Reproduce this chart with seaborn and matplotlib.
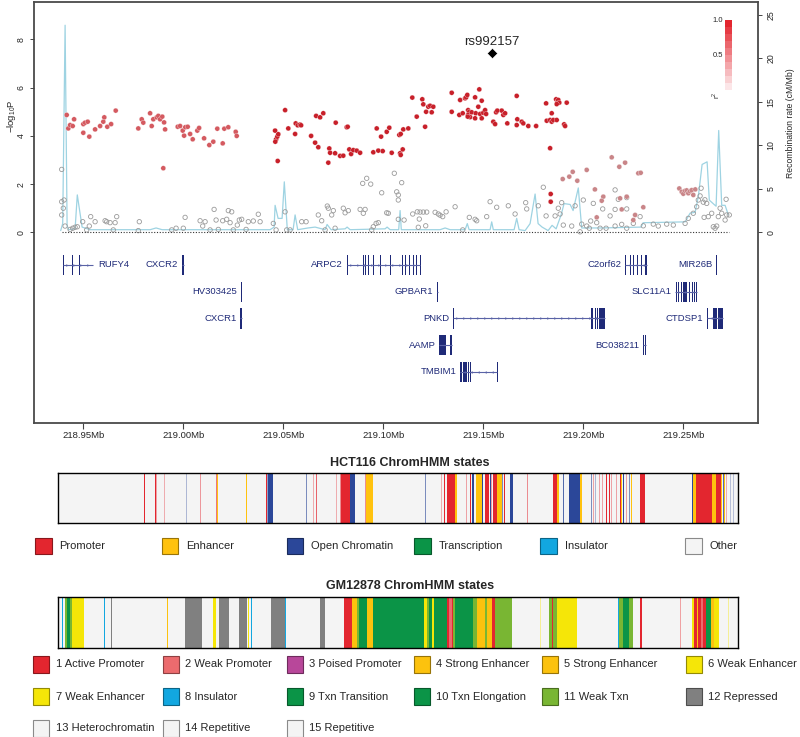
import numpy as np
import pandas as pd
import matplotlib.pyplot as plt
import seaborn as sns
from matplotlib.colors import LinearSegmentedColormap, Normalize, to_rgb
from matplotlib.cm import ScalarMappable
from matplotlib.patches import Rectangle

sns.set_style('white')
plt.rcParams['font.family'] = ['Liberation Sans', 'DejaVu Sans']
plt.rcParams['mathtext.fontset'] = 'custom'
plt.rcParams['mathtext.rm'] = 'Liberation Sans'
NARROW = ['Liberation Sans Narrow', 'Liberation Sans', 'DejaVu Sans']

# ---- association results (position in Mb, -log10 P) ----
snp_mid = [(218.9417, 4.87), (218.9425, 4.31), (218.9434, 4.45), (218.9447, 4.41), (218.9454, 4.69),
           (218.9500, 4.49), (218.9509, 4.55), (218.9522, 4.59), (218.9500, 4.13), (218.9530, 3.97),
           (218.9559, 4.27), (218.9584, 4.41), (218.9600, 4.59), (218.9605, 4.77), (218.9620, 4.38),
           (218.9639, 4.49), (218.9662, 5.05), (218.9775, 4.31), (218.9792, 4.69), (218.9800, 4.55),
           (218.9834, 4.94), (218.9842, 4.41), (218.9850, 4.69), (218.9867, 4.77), (218.9875, 4.83),
           (218.9884, 4.69), (218.9895, 4.80), (218.9904, 4.56), (218.9909, 4.27), (218.9900, 2.66),
           (218.9972, 4.38), (218.9984, 4.41), (218.9997, 4.22), (219.0004, 4.01), (219.0010, 4.36),
           (219.0022, 4.38), (219.0034, 4.08), (219.0047, 3.86), (219.0070, 4.22), (219.0079, 4.33),
           (219.0104, 3.90), (219.0130, 3.62), (219.0150, 3.76), (219.0170, 4.30), (219.0197, 3.69),
           (219.0205, 4.30), (219.0225, 4.36), (219.0262, 4.17), (219.0267, 4.00)]

snp_high = [(219.0459, 4.22), (219.0464, 3.86), (219.0470, 3.97), (219.0475, 4.07), (219.0460, 3.76),
            (219.0472, 2.96), (219.0509, 5.07), (219.0525, 4.31), (219.0559, 4.08), (219.0562, 4.52),
            (219.0572, 4.44), (219.0584, 4.47), (219.0589, 4.44), (219.0639, 4.00), (219.0659, 3.72),
            (219.0664, 4.83), (219.0675, 3.53), (219.0684, 4.77), (219.0700, 4.94), (219.0725, 2.89),
            (219.0730, 3.48), (219.0734, 3.30), (219.0759, 3.28), (219.0762, 4.55), (219.0784, 3.17),
            (219.0800, 3.18), (219.0817, 4.36), (219.0822, 4.38), (219.0830, 3.44), (219.0839, 3.25),
            (219.0850, 3.41), (219.0867, 3.39), (219.0884, 3.30), (219.0950, 3.32), (219.0967, 4.31),
            (219.0975, 3.39), (219.0989, 3.97), (219.0997, 3.37), (219.1017, 4.17), (219.1030, 4.34),
            (219.1042, 3.30), (219.1080, 4.04), (219.1087, 4.08), (219.1084, 3.28), (219.1087, 3.21),
            (219.1097, 3.44), (219.1100, 4.27), (219.1125, 4.31), (219.1145, 5.59), (219.1167, 4.80),
            (219.1195, 5.52), (219.1200, 5.31), (219.1209, 4.38), (219.1214, 5.00), (219.1225, 5.21),
            (219.1234, 5.25), (219.1242, 4.98), (219.1250, 5.21), (219.1342, 5.79), (219.1342, 5.00),
            (219.1380, 4.87), (219.1384, 5.49), (219.1397, 4.94), (219.1409, 5.56), (219.1414, 5.60),
            (219.1420, 5.70), (219.1424, 5.07), (219.1429, 4.99), (219.1424, 4.87), (219.1434, 4.78),
            (219.1442, 4.98), (219.1422, 4.80), (219.1459, 5.60), (219.1462, 4.94), (219.1459, 4.73),
            (219.1475, 5.21), (219.1480, 5.93), (219.1492, 5.46), (219.1484, 4.91), (219.1492, 4.73),
            (219.1500, 4.96), (219.1509, 5.07), (219.1514, 4.91), (219.1550, 4.59), (219.1559, 4.49),
            (219.1564, 4.98), (219.1570, 5.05), (219.1592, 5.05), (219.1600, 4.87), (219.1609, 4.94),
            (219.1620, 4.52), (219.1667, 5.66), (219.1667, 4.45), (219.1670, 4.69), (219.1692, 4.59),
            (219.1700, 4.52), (219.1725, 4.41), (219.1764, 4.41), (219.1814, 5.35), (219.1817, 4.63),
            (219.1834, 4.66), (219.1842, 4.59), (219.1850, 4.66), (219.1867, 4.66), (219.1842, 4.94),
            (219.1864, 5.52), (219.1872, 5.42), (219.1875, 5.49), (219.1880, 5.38), (219.1867, 5.32),
            (219.1917, 5.38), (219.1904, 4.48), (219.1909, 4.41), (219.1834, 3.49), (219.1837, 1.59),
            (219.1837, 1.27)]

snp_low = [(219.1897, 2.21), (219.1930, 2.31), (219.1947, 2.51), (219.1970, 2.14), (219.2017, 2.59),
           (219.2142, 3.11), (219.2180, 2.72), (219.2209, 2.89), (219.2275, 2.45), (219.2287, 2.47),
           (219.2058, 1.78), (219.2100, 1.48), (219.2092, 1.31), (219.2184, 1.41), (219.2217, 1.48),
           (219.2250, 0.51), (219.2259, 0.72), (219.2300, 1.04), (219.2192, 0.95), (219.2067, 0.62),
           (219.2480, 1.82), (219.2492, 1.68), (219.2500, 1.60), (219.2509, 1.72), (219.2517, 1.74),
           (219.2525, 1.62), (219.2534, 1.70), (219.2542, 1.75), (219.2550, 1.55), (219.2560, 1.78)]

snp_none = [(218.9392, 2.61), (218.9392, 1.27), (218.9404, 1.34), (218.9400, 1.00), (218.9392, 0.72),
            (218.9409, 0.26), (218.9434, 0.12), (218.9447, 0.17), (218.9459, 0.21), (218.9470, 0.23),
            (218.9497, 0.44), (218.9517, 0.10), (218.9530, 0.26), (218.9537, 0.65), (218.9559, 0.44),
            (218.9609, 0.48), (218.9617, 0.44), (218.9634, 0.40), (218.9650, 0.10), (218.9659, 0.40),
            (218.9667, 0.65), (218.9780, 0.44), (218.9775, 0.07), (218.9942, 0.10), (218.9964, 0.17),
            (219.0000, 0.17), (219.0009, 0.62), (219.0084, 0.48), (219.0097, 0.26), (219.0109, 0.44),
            (219.0134, 0.10), (219.0154, 0.95), (219.0164, 0.51), (219.0175, 0.12), (219.0197, 0.48),
            (219.0217, 0.54), (219.0225, 0.90), (219.0234, 0.40), (219.0242, 0.85), (219.0250, 0.10),
            (219.0270, 0.30), (219.0280, 0.51), (219.0292, 0.54), (219.0314, 0.12), (219.0325, 0.44),
            (219.0350, 0.47), (219.0375, 0.75), (219.0384, 0.44), (219.0450, 0.37), (219.0464, 0.10),
            (219.0509, 0.85), (219.0517, 0.10), (219.0534, 0.10), (219.0592, 0.44), (219.0614, 0.44),
            (219.0675, 0.72), (219.0692, 0.48), (219.0709, 0.10), (219.0720, 1.09), (219.0725, 1.00),
            (219.0742, 0.72), (219.0750, 0.90), (219.0759, 0.17), (219.0800, 1.00), (219.0809, 0.81),
            (219.0825, 0.90), (219.0884, 0.95), (219.0900, 0.79), (219.0909, 0.95), (219.0897, 2.03),
            (219.0917, 2.24), (219.0937, 2.00), (219.0942, 0.10), (219.0950, 0.23), (219.0964, 0.37),
            (219.0975, 0.40), (219.0992, 1.64), (219.1017, 0.81), (219.1055, 2.45), (219.1067, 1.68),
            (219.1075, 1.55), (219.1075, 0.54), (219.1092, 2.06), (219.1075, 1.34), (219.1025, 0.79),
            (219.1104, 0.51), (219.1147, 0.76), (219.1170, 0.85), (219.1184, 0.84), (219.1200, 0.84),
            (219.1217, 0.84), (219.1180, 0.55), (219.1259, 0.83), (219.1275, 0.76), (219.1284, 0.71),
            (219.1297, 0.65), (219.1314, 0.85), (219.1359, 1.06), (219.1212, 0.27), (219.1175, 0.21),
            (219.1397, 0.10), (219.1430, 0.62), (219.1459, 0.54), (219.1467, 0.48), (219.1517, 0.65),
            (219.1534, 1.27), (219.1567, 1.04), (219.1625, 1.10), (219.1659, 0.76), (219.1712, 1.23),
            (219.1717, 0.97), (219.1800, 1.87), (219.1775, 1.10), (219.1814, 0.68), (219.1859, 0.68),
            (219.1875, 1.00), (219.1892, 1.23), (219.1884, 0.76), (219.1959, 1.10), (219.1942, 0.26),
            (219.1900, 0.30), (219.2000, 1.34), (219.1992, 0.34), (219.2017, 0.26), (219.2037, 0.47),
            (219.2067, 0.40), (219.2084, 0.17), (219.1984, 0.02), (219.2030, 0.17), (219.2114, 0.17),
            (219.2159, 0.26), (219.2192, 0.33), (219.2217, 0.17), (219.2250, 0.37), (219.2159, 0.95),
            (219.2134, 0.68), (219.2217, 0.97), (219.2097, 0.97), (219.2050, 1.20), (219.2284, 0.65),
            (219.2159, 1.76), (219.2175, 1.37), (219.2217, 1.44), (219.2300, 0.27), (219.2350, 0.34),
            (219.2375, 0.26), (219.2417, 0.34), (219.2450, 0.30), (219.2509, 0.37), (219.2525, 0.58),
            (219.2550, 0.79), (219.2567, 1.06), (219.2575, 1.34), (219.2584, 1.51), (219.2589, 1.83),
            (219.2600, 1.25), (219.2608, 1.35), (219.2617, 1.20), (219.2604, 0.62), (219.2625, 0.65),
            (219.2642, 0.79), (219.2650, 0.23), (219.2659, 0.17), (219.2667, 0.26), (219.2675, 0.65),
            (219.2684, 1.00), (219.2692, 0.79), (219.2709, 0.51), (219.2714, 1.37), (219.2717, 0.72),
            (219.2730, 0.72)]

lead_snp = 'rs992157'
lead_pos = 219.1542
lead_logp = 7.44

# recombination rate (cM/Mb)
recomb = [(218.9387, 0.2), (218.9397, 1.0), (218.9409, 23.8), (218.9419, 0.8), (218.9426, 0.3),
          (218.9459, 0.4), (218.9470, 4.3), (218.9494, 0.6), (218.9534, 0.3), (218.9834, 0.3),
          (218.9864, 0.5), (218.9894, 0.3), (219.0434, 0.3), (219.0454, 0.6), (219.0459, 3.1),
          (219.0474, 1.6), (219.0494, 1.6), (219.0505, 5.8), (219.0520, 0.3), (219.0549, 0.3),
          (219.0559, 2.0), (219.0572, 0.3), (219.0624, 0.5), (219.0659, 0.6), (219.0709, 0.3),
          (219.0719, 0.9), (219.0739, 0.3), (219.0809, 0.4), (219.0819, 0.6), (219.0834, 0.3),
          (219.1009, 0.4), (219.1019, 0.6), (219.1034, 0.3), (219.1077, 0.3), (219.1084, 2.5),
          (219.1090, 0.3), (219.1284, 0.3), (219.1309, 0.5), (219.1334, 0.3), (219.1409, 0.3),
          (219.1420, 1.0), (219.1429, 0.3), (219.1534, 0.3), (219.1542, 1.2), (219.1550, 0.3),
          (219.1654, 0.3), (219.1667, 1.6), (219.1679, 0.3), (219.1709, 0.2), (219.1734, 1.0),
          (219.1759, 4.4), (219.1774, 1.0), (219.1794, 0.6), (219.1824, 0.2), (219.1844, 0.8),
          (219.1864, 0.4), (219.1889, 2.0), (219.1904, 3.3), (219.1934, 3.2), (219.1949, 2.5),
          (219.1975, 5.1), (219.1992, 0.5), (219.2084, 0.5), (219.2289, 0.6), (219.2299, 1.1),
          (219.2509, 1.2), (219.2534, 2.2), (219.2559, 2.3), (219.2575, 4.1), (219.2594, 7.8),
          (219.2619, 8.1), (219.2630, 3.7), (219.2654, 3.2), (219.2664, 3.0), (219.2677, 11.7),
          (219.2692, 3.1), (219.2709, 3.1), (219.2725, 2.0)]

# ---- genes ----
gene_names = ['RUFY4', 'CXCR2', 'ARPC2', 'C2orf62', 'MIR26B', 'HV303425', 'GPBAR1', 'SLC11A1',
              'CXCR1', 'PNKD', 'CTDSP1', 'AAMP', 'BC038211', 'TMBIM1']
gene_rows = [0, 0, 0, 0, 0, 1, 1, 1, 2, 2, 2, 3, 3, 4]
gene_start = [218.9397, 218.9992, 219.0817, 219.2209, 219.2662, 219.0289, 219.1267, 219.2459,
              219.0284, 219.1347, 219.2617, 219.1280, 219.2300, 219.1384]
gene_end = [218.9550, 219.0004, 219.1184, 219.2320, 219.2662, 219.0289, 219.1275, 219.2567,
            219.0295, 219.2109, 219.2697, 219.1342, 219.2312, 219.1567]
gene_strand = ['+', '+', '+', '-', '+', '+', '+', '+', '+', '+', '-', '-', '+', '-']
gene_exons = [
    [(218.9397, 218.9402), (218.9442, 218.9444), (218.9480, 218.9482), (218.9517, 218.9519), (218.9542, 218.9546)],
    [(218.9992, 219.0004)],
    [(219.0817, 219.0819), (219.0897, 219.0899), (219.0909, 219.0911), (219.0925, 219.0927), (219.0950, 219.0952),
     (219.0984, 219.0986), (219.1034, 219.1037), (219.1092, 219.1094), (219.1109, 219.1111), (219.1130, 219.1132),
     (219.1150, 219.1152), (219.1165, 219.1168), (219.1182, 219.1184)],
    [(219.2209, 219.2216), (219.2234, 219.2236), (219.2250, 219.2252), (219.2270, 219.2272), (219.2287, 219.2289),
     (219.2309, 219.2320)],
    [(219.2662, 219.2662)],
    [(219.0289, 219.0289)],
    [(219.1267, 219.1275)],
    [(219.2464, 219.2466), (219.2475, 219.2477), (219.2487, 219.2489), (219.2500, 219.2517), (219.2530, 219.2532),
     (219.2542, 219.2544), (219.2555, 219.2557), (219.2565, 219.2567)],
    [(219.0284, 219.0295)],
    [(219.1347, 219.1350), (219.2037, 219.2041), (219.2045, 219.2049), (219.2059, 219.2062), (219.2067, 219.2070),
     (219.2080, 219.2092), (219.2092, 219.2109)],
    [(219.2617, 219.2619), (219.2650, 219.2667), (219.2675, 219.2677), (219.2680, 219.2697)],
    [(219.1280, 219.1313), (219.1334, 219.1342)],
    [(219.2300, 219.2300), (219.2309, 219.2312)],
    [(219.1384, 219.1392), (219.1397, 219.1399), (219.1402, 219.1404), (219.1407, 219.1409), (219.1412, 219.1414),
     (219.1417, 219.1419), (219.1422, 219.1424), (219.1434, 219.1436), (219.1567, 219.1567)],
]

# ---- ChromHMM segments ----
hct_states = ['Promoter', 'Enhancer', 'Open Chromatin', 'Transcription', 'Insulator', 'Other']
hct_colors = ['#E3262F', '#FFC20E', '#2B4799', '#0B9447', '#12A7E0', '#F4F4F4']
# (start, end, state, strength)
hct_segments = [
    (218.9376, 218.9380, 'Open Chromatin', 1), (218.9805, 218.9810, 'Promoter', 1),
    (218.9860, 218.9865, 'Promoter', 1), (218.9865, 218.9870, 'Promoter', 0.4),
    (218.9902, 218.9907, 'Promoter', 0.35), (219.0012, 219.0017, 'Open Chromatin', 0.35),
    (219.0085, 219.0090, 'Promoter', 0.45), (219.0165, 219.0170, 'Promoter', 0.6),
    (219.0170, 219.0176, 'Enhancer', 1), (219.0315, 219.0320, 'Enhancer', 1),
    (219.0412, 219.0417, 'Promoter', 1), (219.0420, 219.0424, 'Open Chromatin', 0.5),
    (219.0425, 219.0447, 'Open Chromatin', 1), (219.0615, 219.0620, 'Open Chromatin', 0.6),
    (219.0648, 219.0653, 'Promoter', 0.35), (219.0665, 219.0670, 'Promoter', 0.7),
    (219.0765, 219.0770, 'Promoter', 0.35), (219.0782, 219.0787, 'Promoter', 0.5),
    (219.0790, 219.0834, 'Promoter', 1), (219.0834, 219.0859, 'Open Chromatin', 1),
    (219.0910, 219.0914, 'Promoter', 0.5), (219.0914, 219.0950, 'Enhancer', 1),
    (219.1207, 219.1212, 'Open Chromatin', 0.6), (219.1290, 219.1295, 'Promoter', 0.35),
    (219.1303, 219.1308, 'Promoter', 1), (219.1317, 219.1359, 'Promoter', 1),
    (219.1359, 219.1370, 'Enhancer', 1), (219.1415, 219.1420, 'Promoter', 0.4),
    (219.1432, 219.1437, 'Promoter', 1), (219.1442, 219.1454, 'Open Chromatin', 1),
    (219.1462, 219.1467, 'Enhancer', 1), (219.1470, 219.1492, 'Enhancer', 1),
    (219.1492, 219.1500, 'Open Chromatin', 1), (219.1509, 219.1530, 'Promoter', 1),
    (219.1534, 219.1538, 'Open Chromatin', 1), (219.1540, 219.1545, 'Promoter', 0.4),
    (219.1550, 219.1567, 'Promoter', 1), (219.1567, 219.1592, 'Enhancer', 1),
    (219.1592, 219.1600, 'Open Chromatin', 0.6), (219.1603, 219.1608, 'Promoter', 1),
    (219.1634, 219.1650, 'Open Chromatin', 1), (219.1720, 219.1725, 'Promoter', 0.5),
    (219.1847, 219.1867, 'Promoter', 1), (219.1867, 219.1877, 'Enhancer', 1),
    (219.1898, 219.1903, 'Open Chromatin', 0.8), (219.1930, 219.1984, 'Open Chromatin', 1),
    (219.1984, 219.1992, 'Enhancer', 1), (219.2040, 219.2045, 'Open Chromatin', 0.6),
    (219.2050, 219.2055, 'Promoter', 0.4), (219.2058, 219.2062, 'Open Chromatin', 0.35),
    (219.2066, 219.2071, 'Open Chromatin', 0.7), (219.2080, 219.2085, 'Promoter', 0.4),
    (219.2092, 219.2097, 'Promoter', 0.4), (219.2115, 219.2120, 'Promoter', 1),
    (219.2128, 219.2133, 'Promoter', 1), (219.2140, 219.2145, 'Promoter', 0.4),
    (219.2165, 219.2170, 'Promoter', 0.4), (219.2182, 219.2187, 'Promoter', 1),
    (219.2190, 219.2195, 'Enhancer', 1), (219.2198, 219.2203, 'Open Chromatin', 1),
    (219.2215, 219.2220, 'Promoter', 0.4), (219.2230, 219.2235, 'Open Chromatin', 0.6),
    (219.2238, 219.2243, 'Enhancer', 1), (219.2285, 219.2309, 'Promoter', 1),
    (219.2544, 219.2550, 'Open Chromatin', 1), (219.2550, 219.2564, 'Enhancer', 1),
    (219.2564, 219.2642, 'Promoter', 1), (219.2645, 219.2662, 'Enhancer', 1),
    (219.2665, 219.2687, 'Promoter', 1), (219.2690, 219.2696, 'Enhancer', 1),
    (219.2698, 219.2702, 'Open Chromatin', 0.8), (219.2703, 219.2709, 'Enhancer', 1),
    (219.2715, 219.2720, 'Promoter', 0.35), (219.2735, 219.2740, 'Open Chromatin', 0.3),
    (219.2748, 219.2753, 'Open Chromatin', 0.3)]

gm_labels = ['1 Active Promoter', '2 Weak Promoter', '3 Poised Promoter', '4 Strong Enhancer',
             '5 Strong Enhancer', '6 Weak Enhancer', '7 Weak Enhancer', '8 Insulator',
             '9 Txn Transition', '10 Txn Elongation', '11 Weak Txn', '12 Repressed',
             '13 Heterochromatin', '14 Repetitive', '15 Repetitive']
gm_colors = ['#E3262F', '#EC6B6E', '#B8479A', '#FCC20E', '#FCC20E', '#F5E608', '#F5E608', '#12A7E0',
             '#0B9447', '#0B9447', '#79B633', '#808080', '#F4F4F4', '#F4F4F4', '#F4F4F4']
# (start, end, state number, strength)
gm_segments = [
    (218.9382, 218.9386, 8, 1), (218.9395, 218.9399, 8, 1), (218.9407, 218.9420, 11, 1),
    (218.9420, 218.9432, 10, 1), (218.9432, 218.9442, 11, 1), (218.9442, 218.9450, 6, 1),
    (218.9450, 218.9505, 6, 1), (218.9603, 218.9608, 8, 1), (218.9640, 218.9645, 12, 1),
    (218.9918, 218.9923, 4, 1), (219.0009, 219.0092, 12, 1), (219.0150, 219.0162, 6, 1),
    (219.0180, 219.0230, 12, 1), (219.0280, 219.0317, 12, 1), (219.0323, 219.0328, 6, 1),
    (219.0337, 219.0342, 8, 1), (219.0439, 219.0509, 12, 1), (219.0509, 219.0515, 8, 1),
    (219.0684, 219.0709, 12, 1), (219.0804, 219.0842, 1, 1), (219.0842, 219.0867, 4, 1),
    (219.0867, 219.0880, 11, 1), (219.0880, 219.0917, 10, 1), (219.0917, 219.0947, 4, 1),
    (219.0947, 219.1204, 10, 1), (219.1204, 219.1217, 6, 1), (219.1217, 219.1229, 11, 1),
    (219.1229, 219.1242, 10, 1), (219.1242, 219.1255, 6, 1), (219.1255, 219.1317, 10, 1),
    (219.1317, 219.1329, 1, 1), (219.1329, 219.1342, 2, 1), (219.1342, 219.1350, 1, 1),
    (219.1350, 219.1359, 11, 1), (219.1359, 219.1450, 10, 1), (219.1450, 219.1470, 11, 1),
    (219.1470, 219.1509, 4, 1), (219.1509, 219.1520, 11, 1), (219.1520, 219.1546, 4, 1),
    (219.1546, 219.1559, 1, 1), (219.1559, 219.1642, 11, 1), (219.1642, 219.1646, 8, 1),
    (219.1782, 219.1787, 6, 0.4), (219.1830, 219.1842, 11, 1), (219.1842, 219.1850, 1, 1),
    (219.1850, 219.1870, 11, 1), (219.1870, 219.1967, 6, 1), (219.2173, 219.2178, 8, 1),
    (219.2178, 219.2200, 11, 1), (219.2200, 219.2230, 10, 1), (219.2230, 219.2250, 11, 1),
    (219.2284, 219.2295, 1, 1), (219.2482, 219.2487, 2, 0.6), (219.2545, 219.2555, 6, 1),
    (219.2555, 219.2567, 1, 1), (219.2567, 219.2575, 4, 1), (219.2575, 219.2590, 1, 1),
    (219.2590, 219.2600, 2, 1), (219.2600, 219.2615, 1, 1), (219.2615, 219.2637, 10, 1),
    (219.2637, 219.2655, 4, 1), (219.2655, 219.2680, 6, 1), (219.2725, 219.2730, 6, 0.4)]

x_ticks = [218.95, 219.00, 219.05, 219.10, 219.15, 219.20, 219.25]


def darker(c, f=0.6):
    r, g, b = to_rgb(c)
    return (r * f, g * f, b * f)


# ---------------- figure ----------------
fig = plt.figure(figsize=(8, 7.37), dpi=100)
box = [0.0425, 0.426, 0.905, 0.5713]
xlim = (218.92535, 219.28735)

# gene panel / frame
ax_g = fig.add_axes(box)
ax_g.set_xlim(xlim)
ax_g.set_ylim(5.92, -9.85)
ax_g.set_yticks([])
ax_g.set_xticks(x_ticks)
ax_g.set_xticklabels([f'{v:.2f}Mb' for v in x_ticks], family=NARROW)
ax_g.tick_params(axis='x', bottom=True, length=4, width=0.8, labelsize=6.8, pad=2, color='#444444')
for sp in ax_g.spines.values():
    sp.set_color('#4a4a4a')
    sp.set_linewidth(1.3)

exon_col = '#1F2A78'
intron_col = '#5A63A6'
for name, row, s, e, strand, exons in zip(gene_names, gene_rows, gene_start, gene_end, gene_strand, gene_exons):
    ax_g.hlines(row, s, e, color=intron_col, lw=0.8)
    if e - s > 0.008:
        arrows = np.arange(s + 0.002, e - 0.001, 0.0035)
        ax_g.plot(arrows, [row] * len(arrows), ls='none', marker='>' if strand == '+' else '<',
                  ms=1.8, color=intron_col, mew=0)
    ax_g.broken_barh([(a, max(b - a, 0.0004)) for a, b in exons], (row - 0.38, 0.76),
                     facecolors=exon_col, lw=0)
    if name == 'RUFY4':
        ax_g.text(e + 0.0025, row, name, ha='left', va='center', fontsize=6.8, color=exon_col, family=NARROW)
    else:
        ax_g.text(s - 0.0018, row, name, ha='right', va='center', fontsize=6.8, color=exon_col, family=NARROW)

# association panel
ax_s = fig.add_axes(box, label='assoc')
ax_r = ax_s.twinx()
ax_s.set_zorder(ax_r.get_zorder() + 1)
ax_s.patch.set_visible(False)
for a in (ax_s, ax_r):
    a.set_xlim(xlim)
    for sp in a.spines.values():
        sp.set_visible(False)
    a.set_xticks([])
ax_s.set_ylim(-7.913, 9.556)
ax_r.set_ylim(-21.92, 26.47)

rec_df = pd.DataFrame(recomb, columns=['pos', 'rate'])
sns.lineplot(data=rec_df, x='pos', y='rate', ax=ax_r, color='#9ED3E2', lw=0.9, estimator=None)

snps = pd.concat([
    pd.DataFrame(snp_mid, columns=['pos', 'logp']).assign(ld='mid'),
    pd.DataFrame(snp_high, columns=['pos', 'logp']).assign(ld='high'),
    pd.DataFrame(snp_low, columns=['pos', 'logp']).assign(ld='low'),
])
none_df = pd.DataFrame(snp_none, columns=['pos', 'logp'])

all_pos = pd.concat([snps['pos'], none_df['pos']])
ax_s.hlines(0, all_pos.min(), all_pos.max(), colors='#333333', linestyles=(0, (1, 1.5)), lw=0.8)

sns.scatterplot(data=none_df, x='pos', y='logp', ax=ax_s, s=10, fc='none', ec='#9A9A9A', linewidth=0.6)
sns.scatterplot(data=snps, x='pos', y='logp', hue='ld', ax=ax_s, s=13, linewidth=0.2,
                palette={'high': '#C8202A', 'mid': '#D45A60', 'low': '#C98588'}, legend=False)
sns.scatterplot(x=[lead_pos], y=[lead_logp], ax=ax_s, marker='D', s=28, color='black')
ax_s.text(lead_pos, lead_logp + 0.45, lead_snp, ha='center', va='center', fontsize=9.5)

ax_s.set_xlabel('')
ax_r.set_xlabel('')
ax_s.set_yticks([0, 2, 4, 6, 8])
ax_s.tick_params(axis='y', left=True, length=3, width=0.7, labelsize=6.3, pad=3,
                 labelrotation=90, color='#444444')
ax_s.set_ylabel('−log$_{10}$P', fontsize=6.8)
ax_s.yaxis.set_label_coords(-0.022, 0.729)
ax_r.set_yticks([0, 5, 10, 15, 20, 25])
ax_r.tick_params(axis='y', right=True, length=3, width=0.7, labelsize=6.3, pad=3,
                 labelrotation=90, color='#444444')
ax_r.set_ylabel('Recombination rate (cM/Mb)', fontsize=6.2)
ax_r.yaxis.set_label_coords(1.038, 0.7126)
for lbl in ax_s.get_yticklabels() + ax_r.get_yticklabels():
    lbl.set_va('center')

# LD colour key
cax = fig.add_axes([0.906, 0.878, 0.009, 0.095])
ld_cmap = LinearSegmentedColormap.from_list('ld', ['#FCE6E8', '#E3262F'], N=10)
cb = fig.colorbar(ScalarMappable(norm=Normalize(0, 1), cmap=ld_cmap), cax=cax,
                  ticks=[0.5, 1.0], ticklocation='left')
cb.outline.set_visible(False)
cb.ax.set_yticklabels(['0.5', '1.0'])
cax.tick_params(labelsize=5.5, length=0, pad=1)
cax.text(-0.4, -0.02, 'r$^2$', transform=cax.transAxes, ha='right', va='top', fontsize=5.5, rotation=90)

# ChromHMM tracks
chrom_xlim = (218.9375, 219.2772)


def chrom_track(rect, segments, colors):
    ax = fig.add_axes(rect)
    ax.set_facecolor('#F4F4F4')
    ax.set_xlim(chrom_xlim)
    ax.set_ylim(0, 1)
    ax.set_xticks([])
    ax.set_yticks([])
    for s, e, st, a in segments:
        ax.axvspan(s, e, color=colors[st], alpha=a, lw=0)
    for sp in ax.spines.values():
        sp.set_visible(True)
        sp.set_color('black')
        sp.set_linewidth(1.0)
    return ax


chrom_track([58.3 / 800, 1 - 523.3 / 737, 679.4 / 800, 50 / 737], hct_segments,
            dict(zip(hct_states, hct_colors)))
chrom_track([58.3 / 800, 1 - 648.3 / 737, 679.4 / 800, 51 / 737], gm_segments,
            dict(zip(range(1, 16), gm_colors)))

# titles and legends (pixel layout)
ax_l = fig.add_axes([0, 0, 1, 1], zorder=-5)
ax_l.set_xlim(0, 800)
ax_l.set_ylim(737, 0)
ax_l.axis('off')
ax_l.text(410, 463, 'HCT116 ChromHMM states', ha='center', va='center', fontsize=9, weight='bold')
ax_l.text(410, 586, 'GM12878 ChromHMM states', ha='center', va='center', fontsize=9, weight='bold')

hct_leg_x = [35, 161.7, 286.7, 414, 540, 685]
for x, lab, c in zip(hct_leg_x, hct_states, hct_colors):
    ec = '#8A8A8A' if lab == 'Other' else darker(c)
    ax_l.add_patch(Rectangle((x, 546 - 8.3), 16.5, 16.6, fc=c, ec=ec, lw=0.8))
    ax_l.text(x + 24.5, 546, lab, ha='left', va='center', fontsize=8)

gm_leg_x = [33, 162.5, 286.7, 414, 541.7, 685.7]
gm_leg_y = [664.3, 696.7, 728.3]
for i, (lab, c) in enumerate(zip(gm_labels, gm_colors)):
    x = gm_leg_x[i % 6]
    y = gm_leg_y[i // 6]
    ec = '#8A8A8A' if c == '#F4F4F4' else darker(c)
    ax_l.add_patch(Rectangle((x, y - 8.3), 16.2, 16.6, fc=c, ec=ec, lw=0.8))
    ax_l.text(x + 22.5, y, lab, ha='left', va='center', fontsize=8)

fig.savefig('out.png', dpi=100)
